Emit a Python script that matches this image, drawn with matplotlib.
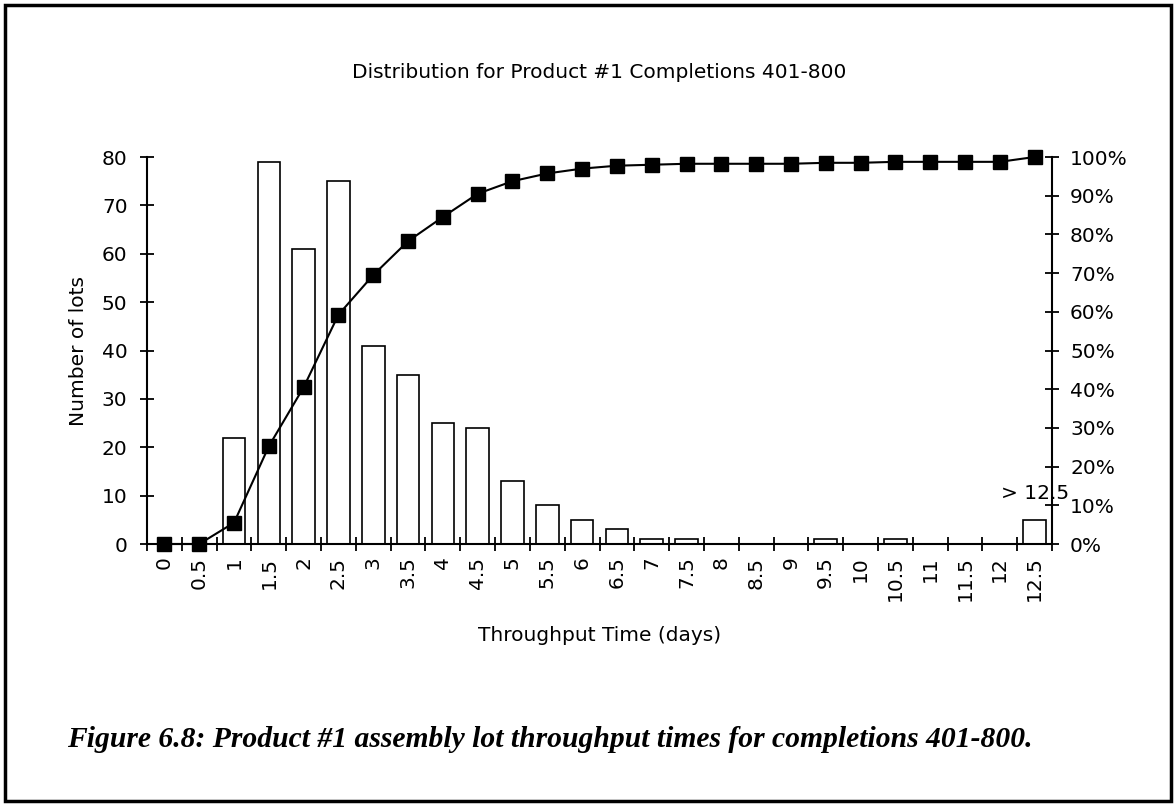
import numpy as np
import matplotlib.pyplot as plt
from matplotlib.ticker import FixedLocator, FuncFormatter
from matplotlib.patches import Rectangle

# bins (days) and counts
bins = ["0", "0.5", "1", "1.5", "2", "2.5", "3", "3.5", "4", "4.5", "5", "5.5", "6",
        "6.5", "7", "7.5", "8", "8.5", "9", "9.5", "10", "10.5", "11", "11.5", "12", "12.5"]
lots = [0, 0, 22, 79, 61, 75, 41, 35, 25, 24, 13, 8, 5,
        3, 1, 1, 0, 0, 0, 1, 0, 1, 0, 0, 0, 5]
# cumulative share (%)
cum_pct = [0, 0, 5.5, 25.25, 40.5, 59.25, 69.5, 78.25, 84.5, 90.5, 93.75, 95.75, 97.0,
           97.75, 98.0, 98.25, 98.25, 98.25, 98.25, 98.5, 98.5, 98.75, 98.75, 98.75, 98.75, 100]
left_ticks = [0, 10, 20, 30, 40, 50, 60, 70, 80]
right_ticks = [0, 10, 20, 30, 40, 50, 60, 70, 80, 90, 100]

plt.rcParams['font.family'] = ['DejaVu Sans']
fs = 14.5

fig = plt.figure(figsize=(11.76, 8.05), dpi=100)
ax = fig.add_axes([147 / 1176, 1 - 544 / 805, (1052 - 147) / 1176, (544 - 157) / 805])

x = np.arange(len(bins))
ax.bar(x, lots, width=0.65, color='white', edgecolor='black', linewidth=1.2, zorder=2)
ax.set_xlim(-0.5, len(bins) - 0.5)
ax.set_ylim(0, 80)

# ticks at bin boundaries, labels at bin centres
ax.xaxis.set_major_locator(FixedLocator(np.arange(-0.5, len(bins), 1.0)))
ax.xaxis.set_major_formatter(FuncFormatter(lambda v, p: ""))
ax.xaxis.set_minor_locator(FixedLocator(x))
ax.set_xticklabels(bins, minor=True, rotation=90, fontsize=fs)
ax.tick_params(axis='x', which='major', direction='inout', length=10, width=1.3)
ax.tick_params(axis='x', which='minor', length=0, pad=9)

ax.set_yticks(left_ticks)
ax.tick_params(axis='y', direction='inout', length=10, width=1.3, labelsize=fs, pad=9)

for side in ['top', 'right']:
    ax.spines[side].set_visible(False)
for side in ['left', 'bottom']:
    ax.spines[side].set_linewidth(1.5)

ax.set_ylabel('Number of lots', fontsize=fs, labelpad=10)
ax.set_xlabel('Throughput Time (days)', fontsize=fs, labelpad=18)
ax.set_title('Distribution for Product #1 Completions 401-800', fontsize=fs, pad=57)

ax.text(x[-1], lots[-1] + 5.5, '> 12.5', ha='center', va='center', fontsize=fs, zorder=5)

ax2 = ax.twinx()
ax2.plot(x, np.array(cum_pct) / 100, color='black', linewidth=1.5,
         marker='s', markersize=9.5, zorder=3, clip_on=False)
ax2.set_ylim(0, 1)
ax2.set_yticks(np.array(right_ticks) / 100)
ax2.yaxis.set_major_formatter(FuncFormatter(lambda v, p: f"{v * 100:.0f}%"))
ax2.tick_params(axis='y', direction='inout', length=10, width=1.3, labelsize=fs, pad=8)
for side in ['top', 'left', 'bottom']:
    ax2.spines[side].set_visible(False)
ax2.spines['right'].set_linewidth(1.5)

fig.text(550 / 1176, 1 - 739 / 805,
         'Figure 6.8: Product #1 assembly lot throughput times for completions 401-800.',
         family='Liberation Serif', style='italic', weight='bold', fontsize=21.3,
         ha='center', va='center')

# page frame
fig.patches.append(Rectangle((5 / 1176, 4 / 805), 1166 / 1176, 796 / 805,
                             transform=fig.transFigure, fill=False,
                             edgecolor='black', linewidth=2.5))

fig.savefig('out.png', dpi=100)
